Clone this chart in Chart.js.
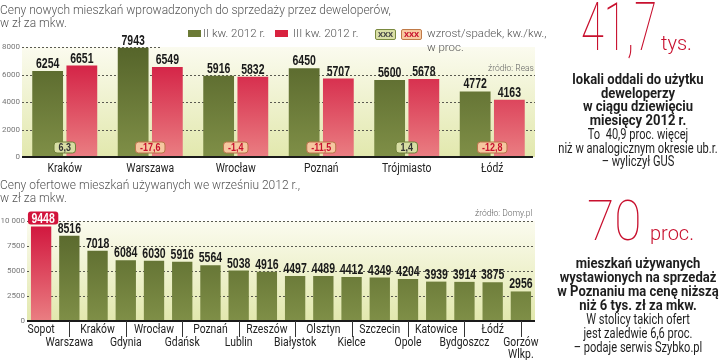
<!DOCTYPE html>
<html><head><meta charset="utf-8">
<script src="https://cdn.jsdelivr.net/npm/chart.js@4"></script>
<style>
body{margin:0;width:720px;height:360px;overflow:hidden;background:#fff;position:relative;font-family:Roboto,sans-serif}
.abs{position:absolute;white-space:nowrap;z-index:2}
.title{font-family:Roboto,sans-serif;font-weight:300;font-size:12px;color:#555;line-height:12.5px}
.leg{font-family:Roboto,sans-serif;font-weight:300;font-size:11.5px;color:#555}
.sw{position:absolute;width:13px;height:7px;z-index:2}
.bx{position:absolute;z-index:2;height:9px;width:19px;border-radius:2px;font:bold 8px Roboto,sans-serif;text-align:center;line-height:9px}
.src{font-family:Roboto,sans-serif;font-weight:300;font-size:8.5px;color:#666}
canvas{position:absolute;left:0;z-index:1}
.big{font-family:Roboto,sans-serif;font-weight:100;color:#c8102e;line-height:1;transform-origin:left top}
.blk{position:absolute;z-index:2;left:508px;width:260px;text-align:center;white-space:nowrap;font-family:Roboto,sans-serif;font-size:15px;color:#1e1e1e;transform-origin:center top}
.blk.b{font-weight:bold;transform:scaleX(0.87)}
.blk.r{font-weight:400;transform:scaleX(0.74)}
</style>
</head><body>
<div class="abs title" style="left:0;top:4px">Ceny nowych mieszkań wprowadzonych do sprzedaży przez deweloperów,<br>w zł za mkw.</div>
<div class="sw" style="left:188px;top:30px;background:#6b7a36"></div>
<div class="abs leg" style="left:203px;top:26px">II kw. 2012 r.</div>
<div class="sw" style="left:275px;top:30px;background:#d8223f"></div>
<div class="abs leg" style="left:293px;top:26px">III kw. 2012 r.</div>
<div class="bx" style="left:375px;top:29px;background:#d9dfa6;border:1px solid #7a8a40;color:#444">XXX</div>
<div class="bx" style="left:401px;top:29px;background:#f7c9a0;border:1px solid #c07a48;color:#c8102e">XXX</div>
<div class="abs leg" style="left:427px;top:26px;line-height:14px">wzrost/spadek, kw./kw.,<br>w proc.</div>
<div class="abs src" style="left:488px;top:63px">źródło: Reas</div>

<div class="abs title" style="left:0;top:179px">Ceny ofertowe mieszkań używanych we wrześniu 2012 r.,<br>w zł za mkw.</div>
<div class="abs src" style="left:475px;top:208px">źródło: Domy.pl</div>

<canvas id="c1" width="545" height="180" style="top:0"></canvas>
<canvas id="c2" width="545" height="190" style="top:170px"></canvas>

<div class="abs big" style="left:581px;top:-5.5px;font-size:66px;transform:scaleX(0.63)">41,7</div>
<div class="abs big" style="left:661px;top:33px;font-size:20px;font-weight:300">tys.</div>
<div class="blk b" style="top:73px;line-height:13.7px">lokali oddali do użytku<br>deweloperzy<br>w ciągu dziewięciu<br>miesięcy 2012 r.</div>
<div class="blk r" style="top:127.8px;line-height:13.7px">To&nbsp; 40,9 proc. więcej<br>niż w analogicznym okresie ub.r.<br>– wyliczył GUS</div>

<div class="abs big" style="left:587px;top:193px;font-size:56px;transform:scaleX(0.89)">70</div>
<div class="abs big" style="left:650px;top:223px;font-size:20px;font-weight:300">proc.</div>
<div class="blk b" style="top:256px;line-height:14px">mieszkań używanych<br>wystawionych na sprzedaż<br>w Poznaniu ma cenę niższą<br>niż 6 tys. zł za mkw.</div>
<div class="blk r" style="top:312px;line-height:14px">W stolicy takich ofert<br>jest zaledwie 6,6 proc.<br>– podaje serwis Szybko.pl</div>

<script>
// ---- data ----
const topCities = ['Kraków','Warszawa','Wrocław','Poznań','Trójmiasto','Łódź'];
const q2Values = [6254, 7943, 5916, 6450, 5600, 4772];
const q3Values = [6651, 6549, 5832, 5707, 5678, 4163];
const changeValues = [6.3, -17.6, -1.4, -11.5, 1.4, -12.8];
const topTicks = [0, 2000, 4000, 6000, 8000];

const bottomCities = ['Sopot','Warszawa','Kraków','Gdynia','Wrocław','Gdańsk','Poznań','Lublin','Rzeszów','Białystok','Olsztyn','Kielce','Szczecin','Opole','Katowice','Bydgoszcz','Łódź','Gorzów Wlkp.'];
const bottomValues = [9448, 8516, 7018, 6084, 6030, 5916, 5564, 5038, 4916, 4497, 4489, 4412, 4349, 4204, 3939, 3914, 3875, 2956];
const bottomTicks = [0, 2500, 5000, 7500, 10000];
const highlightCity = 'Sopot';

// ---- helpers ----
const VALFONT = "bold 14px 'Liberation Sans', Arial, sans-serif";
const VALSX = 0.75;
const LBLFONT = "12.5px Roboto, sans-serif";
const LBLSX = 0.83;
function vgrad(ctx, c1, c2){
  const ch = ctx.chart, a = ch.chartArea;
  if(!a) return c1;
  const g = ch.ctx.createLinearGradient(0, a.top, 0, a.bottom);
  g.addColorStop(0, c1); g.addColorStop(1, c2);
  return g;
}
const GREEN = c => vgrad(c, '#55642a', '#7f8f47');
const RED = c => vgrad(c, '#d0123b', '#ea7e82');
function rrect(ctx, x, y, w, h, r){
  ctx.beginPath();
  ctx.moveTo(x+r, y); ctx.lineTo(x+w-r, y); ctx.quadraticCurveTo(x+w, y, x+w, y+r);
  ctx.lineTo(x+w, y+h-r); ctx.quadraticCurveTo(x+w, y+h, x+w-r, y+h);
  ctx.lineTo(x+r, y+h); ctx.quadraticCurveTo(x, y+h, x, y+h-r);
  ctx.lineTo(x, y+r); ctx.quadraticCurveTo(x, y, x+r, y); ctx.closePath();
}
function ntext(ctx, txt, x, y, sx){
  ctx.save(); ctx.translate(x, y); ctx.scale(sx, 1); ctx.fillText(txt, 0, 0); ctx.restore();
}
function nwidth(ctx, txt, sx){ return ctx.measureText(txt).width * sx; }
function bgAndGrid(chart, ticks, limitTop){
  const {ctx, chartArea:a, scales:{y}} = chart;
  ctx.save();
  const g = ctx.createLinearGradient(0, a.top, 0, a.bottom);
  g.addColorStop(0, '#fbfbef'); g.addColorStop(1, '#e2e8ad');
  ctx.fillStyle = g; ctx.fillRect(a.left, a.top, a.right - a.left, a.bottom - a.top);
  ctx.strokeStyle = '#5a5a50'; ctx.lineWidth = 1; ctx.setLineDash([2, 2]);
  ticks.forEach(v => {
    if (v === 0) return;
    const py = Math.round(y.getPixelForValue(v)) + 0.5;
    const xe = (limitTop && v === ticks[ticks.length-1]) ? limitTop : a.right;
    ctx.beginPath(); ctx.moveTo(a.left, py); ctx.lineTo(xe, py); ctx.stroke();
  });
  ctx.restore();
}
function baseline(chart, x0, x1){
  const {ctx, chartArea:a} = chart;
  ctx.save(); ctx.strokeStyle = '#1a1a1a'; ctx.lineWidth = 2;
  ctx.beginPath(); ctx.moveTo(x0, a.bottom); ctx.lineTo(x1, a.bottom); ctx.stroke(); ctx.restore();
}

// ---- top chart ----
const topPlugin = {
  id: 'topdeco',
  beforeDatasetsDraw(chart){ bgAndGrid(chart, topTicks, 160); },
  afterDatasetsDraw(chart){
    const ctx = chart.ctx, a = chart.chartArea, xs = chart.scales.x;
    baseline(chart, a.left, a.right - 2);
    ctx.save();
    ctx.font = VALFONT; ctx.fillStyle = '#1a1a1a';
    ctx.textAlign = 'center'; ctx.textBaseline = 'alphabetic';
    [0,1].forEach(di => {
      chart.getDatasetMeta(di).data.forEach((el, i) => {
        const v = chart.data.datasets[di].data[i];
        ntext(ctx, String(v), el.x, el.y - 3, VALSX);
      });
    });
    ctx.font = LBLFONT; ctx.fillStyle = '#222';
    topCities.forEach((c, i) => ntext(ctx, c, xs.getPixelForValue(i), a.bottom + 14.5, LBLSX));
    const m0 = chart.getDatasetMeta(0).data, m1 = chart.getDatasetMeta(1).data;
    ctx.font = "bold 11.5px 'Liberation Sans', Arial, sans-serif";
    changeValues.forEach((v, i) => {
      const cx = (m0[i].x + m1[i].x) / 2;
      const txt = String(v).replace('.', ',');
      const w = nwidth(ctx, txt, 0.78) + 9, h = 11, yy = 142;
      rrect(ctx, cx - w/2, yy, w, h, 3);
      ctx.fillStyle = v > 0 ? '#d8dea4' : '#f6c7a0'; ctx.fill();
      ctx.lineWidth = 1; ctx.strokeStyle = v > 0 ? '#6f7e38' : '#b9744a'; ctx.stroke();
      ctx.fillStyle = v > 0 ? '#333' : '#c8102e';
      ctx.textBaseline = 'middle';
      ntext(ctx, txt, cx, yy + h/2 + 0.5, 0.78);
    });
    ctx.restore();
  }
};
new Chart(document.getElementById('c1'), {
  type: 'bar',
  data: {
    labels: topCities,
    datasets: [
      { label: 'II kw. 2012 r.', data: q2Values, backgroundColor: GREEN, categoryPercentage: 0.8, barPercentage: 0.9 },
      { label: 'III kw. 2012 r.', data: q3Values, backgroundColor: RED, categoryPercentage: 0.8, barPercentage: 0.9 }
    ]
  },
  options: {
    responsive: false, animation: false,
    layout: { padding: { top: 47, right: 10, left: 0, bottom: 0 } },
    plugins: { legend: { display: false }, tooltip: { enabled: false } },
    scales: {
      x: {
        afterFit: s => { s.height = 23; },
        grid: { display: false, drawTicks: false }, border: { display: false },
        ticks: { display: false }
      },
      y: {
        min: 0, max: 8000,
        afterFit: s => { s.width = 22; },
        afterBuildTicks: s => { s.ticks = topTicks.map(v => ({ value: v })); },
        grid: { display: false, drawTicks: false }, border: { display: false },
        ticks: { font: { family: 'Roboto', size: 8 }, color: '#777', padding: 2, callback: v => String(v) }
      }
    }
  },
  plugins: [topPlugin]
});

// ---- bottom chart ----
const botPlugin = {
  id: 'botdeco',
  beforeDatasetsDraw(chart){ bgAndGrid(chart, bottomTicks, null); },
  afterDatasetsDraw(chart){
    const ctx = chart.ctx, a = chart.chartArea, xs = chart.scales.x;
    baseline(chart, a.left, a.right);
    ctx.save();
    const meta = chart.getDatasetMeta(0).data;
    ctx.strokeStyle = '#333'; ctx.lineWidth = 1;
    ctx.font = LBLFONT; ctx.fillStyle = '#222';
    ctx.textAlign = 'center'; ctx.textBaseline = 'alphabetic';
    bottomCities.forEach((c, i) => {
      const x = xs.getPixelForValue(i);
      if (i % 2 === 1) {
        const lx = Math.round(x) + 0.5;
        ctx.beginPath(); ctx.moveTo(lx, a.bottom); ctx.lineTo(lx, a.bottom + 16); ctx.stroke();
      }
      const lines = c === 'Gorzów Wlkp.' ? ['Gorzów', 'Wlkp.'] : [c];
      const y0 = a.bottom + (i % 2 === 1 ? 25 : 12);
      lines.forEach((t, k) => ntext(ctx, t, x, y0 + k * 11.5, LBLSX));
    });
    ctx.font = VALFONT;
    meta.forEach((el, i) => {
      const txt = String(bottomValues[i]);
      if (bottomCities[i] === highlightCity) {
        const w = nwidth(ctx, txt, VALSX) + 7, h = 13;
        rrect(ctx, el.x - w/2 + 2, el.y - h - 2, w, h, 3);
        ctx.fillStyle = '#d2143c'; ctx.fill();
        ctx.fillStyle = '#fff';
        ntext(ctx, txt, el.x + 2, el.y - 4, VALSX);
      } else {
        ctx.fillStyle = '#1a1a1a';
        ntext(ctx, txt, el.x, el.y - 3, VALSX);
      }
    });
    ctx.restore();
  }
};
new Chart(document.getElementById('c2'), {
  type: 'bar',
  data: {
    labels: bottomCities,
    datasets: [{
      data: bottomValues,
      backgroundColor: c => bottomCities[c.dataIndex] === highlightCity ? RED(c) : GREEN(c),
      categoryPercentage: 1, barPercentage: 0.72
    }]
  },
  options: {
    responsive: false, animation: false,
    layout: { padding: { top: 51, right: 10, left: 0, bottom: 0 } },
    plugins: { legend: { display: false }, tooltip: { enabled: false } },
    scales: {
      x: {
        afterFit: s => { s.height = 39; },
        grid: { display: false, drawTicks: false }, border: { display: false },
        ticks: { display: false }
      },
      y: {
        min: 0, max: 10000,
        afterFit: s => { s.width = 27; },
        afterBuildTicks: s => { s.ticks = bottomTicks.map(v => ({ value: v })); },
        grid: { display: false, drawTicks: false }, border: { display: false },
        ticks: { font: { family: 'Roboto', size: 8 }, color: '#777', padding: 2,
          callback: v => v >= 10000 ? '10 000' : String(v) }
      }
    }
  },
  plugins: [botPlugin]
});
</script>
</body></html>
